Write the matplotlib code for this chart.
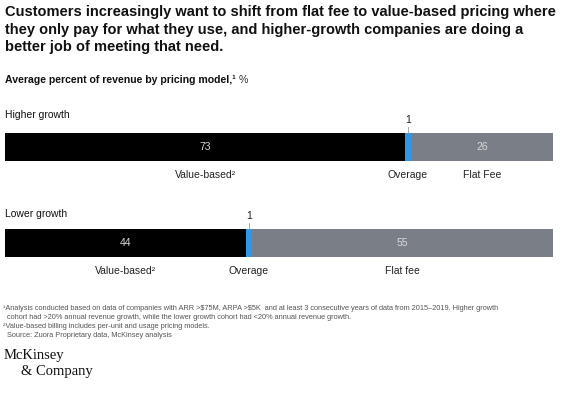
import matplotlib
matplotlib.use("Agg")
import matplotlib.pyplot as plt

plt.rcParams["font.family"] = ["Liberation Sans", "DejaVu Sans"]

groups = ["Higher growth", "Lower growth"]
segment_labels = [["Value-based²", "Overage", "Flat Fee"],
                  ["Value-based²", "Overage", "Flat fee"]]
values = [[73, 1, 26], [44, 1, 55]]
colors = ["#000000", "#2f96e8", "#7a7f87"]
value_colors = ["#d9d9d9", None, "#d9d9d9"]

W, H = 564, 397
fig = plt.figure(figsize=(W / 100, H / 100), dpi=100)

fig.text(5 / W, 1 - 5 / H,
         "Customers increasingly want to shift from flat fee to value-based pricing where\n"
         "they only pay for what they use, and higher-growth companies are doing a\n"
         "better job of meeting that need.",
         fontsize=10.5, fontweight="bold", va="top", ha="left", linespacing=1.33,
         color="#111111")
sub = fig.text(5 / W, 1 - 80 / H, "Average percent of revenue by pricing model,¹",
               fontsize=7.6, fontweight="bold", va="center", ha="left", color="#111111")
fig.canvas.draw()
bb = sub.get_window_extent()
fig.text((bb.x1 + 3) / W, 1 - 80 / H, "%", fontsize=7.6, va="center", ha="left",
         color="#333333")

bar_tops = [133, 229]
bar_h = 28
for gi, (grp, vals, labs) in enumerate(zip(groups, values, segment_labels)):
    top = bar_tops[gi]
    ax = fig.add_axes([5 / W, 1 - (top + bar_h) / H, 548 / W, bar_h / H])
    left = 0
    centers = []
    for v, c, vc in zip(vals, colors, value_colors):
        ax.barh(0, v, left=left, height=1, color=c, edgecolor="none")
        centers.append(left + v / 2)
        if vc is not None:
            ax.text(left + v / 2, 0, str(v), color=vc, fontsize=7.5,
                    ha="center", va="center")
        left += v
    ax.set_xlim(0, sum(vals))
    ax.set_ylim(-0.5, 0.5)
    ax.axis("off")

    # overage value above the bar, with a short tick
    ax.plot([centers[1], centers[1]], [0.5, 0.72], color="#999999", lw=0.6,
            clip_on=False)
    ax.text(centers[1], 0.78, str(vals[1]), fontsize=7.5, ha="center",
            va="bottom", color="#222222")
    for ci, lab in zip(centers, labs):
        ax.text(ci, -1.0, lab, fontsize=7.5, ha="center", va="center",
                color="#222222")
    ax.text(0, 1.15 if gi == 0 else 1.05, grp, fontsize=7.5, ha="left",
            va="center", color="#111111")

notes = (r"¹Analysis conducted based on data of companies with ARR >\$75M, ARPA >\$5K  and at least 3 "
         "consecutive years of data from 2015–2019. Higher growth\n"
         "  cohort had >20% annual revenue growth, while the lower growth cohort had <20% annual revenue growth.\n"
         "²Value-based billing includes per-unit and usage pricing models.\n"
         "  Source: Zuora Proprietary data, McKinsey analysis")
fig.text(3 / W, 1 - 305 / H, notes, fontsize=5.3, va="top", ha="left",
         color="#555555", linespacing=1.42)

fig.text(4 / W, 1 - 355 / H, "McKinsey", fontsize=10.5, family="Liberation Serif",
         va="center", ha="left", color="#111111")
fig.text(21 / W, 1 - 372 / H, "& Company", fontsize=10.5, family="Liberation Serif",
         va="center", ha="left", color="#111111")

fig.savefig("out.png", dpi=100)
